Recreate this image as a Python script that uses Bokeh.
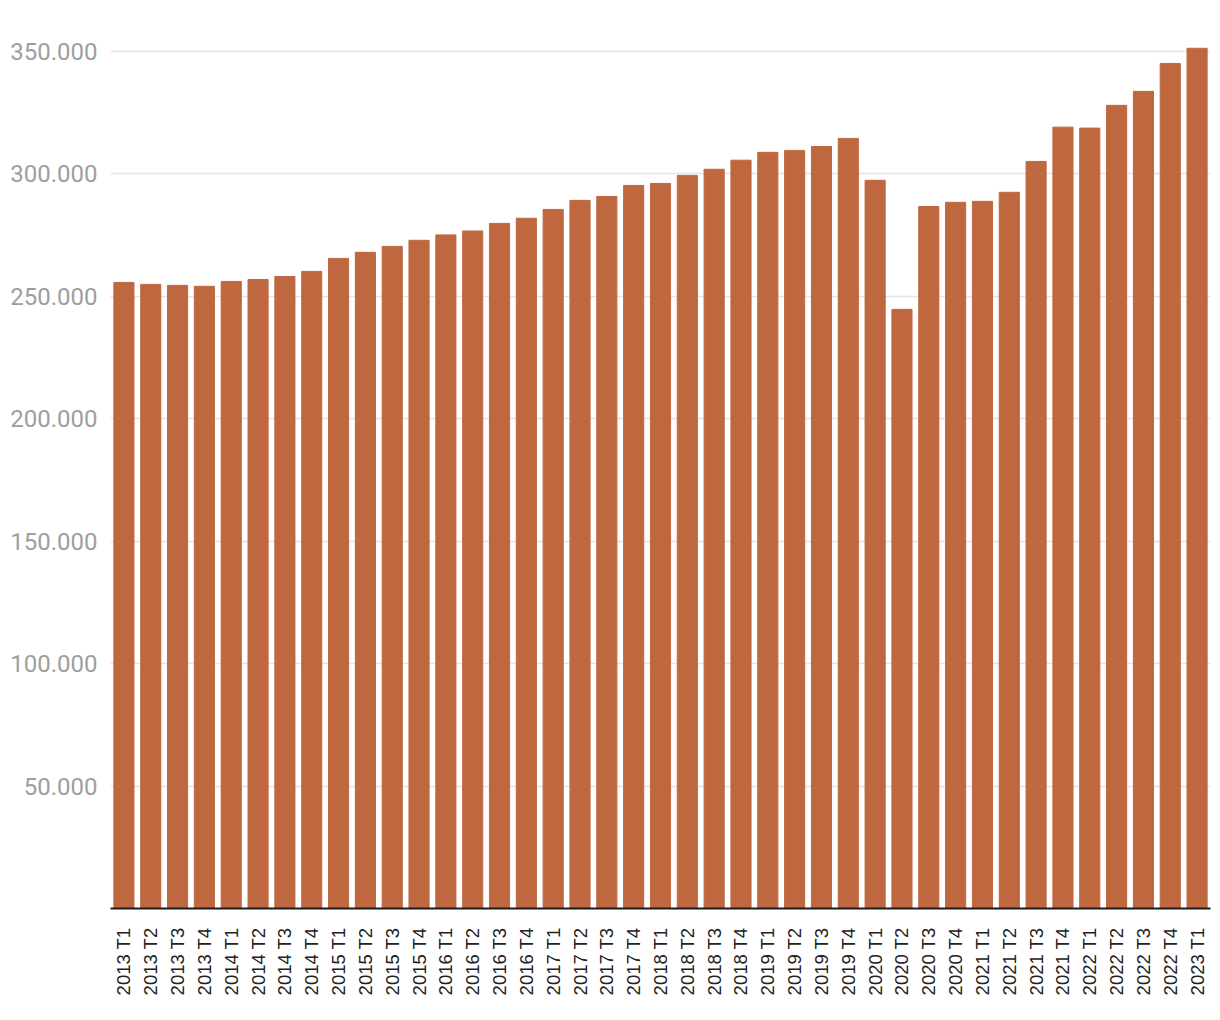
from bokeh.plotting import figure
from bokeh.models import FixedTicker, ColumnDataSource
from bokeh.embed import file_html
from bokeh.resources import INLINE
import math

categories = ["2013 T1", "2013 T2", "2013 T3", "2013 T4",
              "2014 T1", "2014 T2", "2014 T3", "2014 T4",
              "2015 T1", "2015 T2", "2015 T3", "2015 T4",
              "2016 T1", "2016 T2", "2016 T3", "2016 T4",
              "2017 T1", "2017 T2", "2017 T3", "2017 T4",
              "2018 T1", "2018 T2", "2018 T3", "2018 T4",
              "2019 T1", "2019 T2", "2019 T3", "2019 T4",
              "2020 T1", "2020 T2", "2020 T3", "2020 T4",
              "2021 T1", "2021 T2", "2021 T3", "2021 T4",
              "2022 T1", "2022 T2", "2022 T3", "2022 T4",
              "2023 T1"]

values = [255600, 254800, 254400, 254000,
          256000, 256800, 258000, 260100,
          265400, 267900, 270300, 272800,
          275000, 276600, 279700, 281800,
          285400, 289100, 290700, 295200,
          296000, 299300, 301800, 305500,
          308700, 309500, 311100, 314400,
          297300, 244600, 286600, 288300,
          288700, 292400, 305000, 319000,
          318600, 327900, 333600, 345000,
          351200]

y_ticks = [50000, 100000, 150000, 200000, 250000, 300000, 350000]
y_labels = ["50.000", "100.000", "150.000", "200.000", "250.000", "300.000", "350.000"]

source = ColumnDataSource(dict(cat=categories, val=values))

p = figure(x_range=categories, y_range=(0, 356000), width=1220, height=1020,
           output_backend="svg", toolbar_location=None,
           min_border_left=110, min_border_right=10, min_border_top=36,
           min_border_bottom=112)
p.x_range.range_padding = 0
p.vbar(x="cat", top="val", width=0.75, source=source, color="#bf6840")

p.outline_line_color = None
p.background_fill_color = "white"
p.border_fill_color = "white"

p.xgrid.grid_line_color = None
p.ygrid.grid_line_color = "#e4e4e4"
p.ygrid.grid_line_width = 1.5

p.yaxis.ticker = FixedTicker(ticks=y_ticks)
p.yaxis.major_label_overrides = {t: l for t, l in zip(y_ticks, y_labels)}
p.yaxis.axis_line_color = None
p.yaxis.major_tick_line_color = None
p.yaxis.minor_tick_line_color = None
p.yaxis.major_tick_in = 0
p.yaxis.major_tick_out = 0
p.yaxis.major_label_standoff = 13
p.yaxis.major_label_text_font = "Roboto"
p.yaxis.major_label_text_font_size = "24px"
p.yaxis.major_label_text_color = "#9e9e9e"

p.xaxis.axis_line_color = "#1a1a1a"
p.xaxis.axis_line_width = 2
p.xaxis.major_tick_line_color = None
p.xaxis.major_tick_in = 0
p.xaxis.major_tick_out = 0
p.xaxis.major_label_standoff = 19
p.xaxis.major_label_orientation = math.pi / 2
p.xaxis.major_label_text_font = "Liberation Sans"
p.xaxis.major_label_text_font_size = "18.5px"
p.xaxis.major_label_text_color = "#222222"

open("out.html", "w").write(file_html(p, INLINE))
